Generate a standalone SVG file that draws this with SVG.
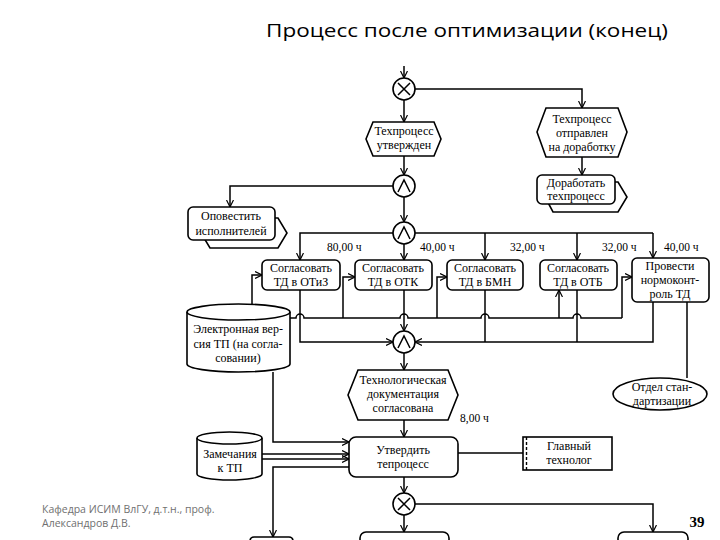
<svg xmlns="http://www.w3.org/2000/svg" width="720" height="540" viewBox="0 0 720 540">
<defs>
<marker id="ar" markerWidth="8" markerHeight="8" refX="7" refY="4" orient="auto" markerUnits="userSpaceOnUse">
<path d="M0,0.5 L7,4 L0,7.5" fill="none" stroke="#000" stroke-width="1.2"/>
</marker>
</defs>
<style>
.t{font-size:12px;fill:#000;text-anchor:middle}
.h{font-size:11.5px;fill:#000}
.n{fill:#fff;stroke:#000;stroke-width:1.6}
.c{fill:none;stroke:#000;stroke-width:1.5}
.a{fill:none;stroke:#000;stroke-width:1.5;marker-end:url(#ar)}
.foot{font-size:10.5px;fill:#707070}
</style>
<rect width="720" height="540" fill="#fff"/>
<text x="467" y="37" font-family="Open Sans, Liberation Sans, sans-serif" font-size="19" fill="#000" text-anchor="middle" textLength="402" lengthAdjust="spacingAndGlyphs">Процесс после оптимизации (конец)</text>

<g id="connectors">
<path class="a" d="M404,66 L404,78"/>
<path class="a" d="M415,89 L582,89 L582,108"/>
<path class="a" d="M582,157 L582,175"/>
<path class="a" d="M404,100 L404,122"/>
<path class="a" d="M404,156 L404,175"/>
<path class="a" d="M393,186 L230,186 L230,207"/>
<path class="a" d="M404,197 L404,222"/>
<path class="a" d="M393,233 L300,233 L300,260"/>
<path class="c" d="M415,233 L653,233"/>
<path class="a" d="M653,233 L653,258"/>
<path class="a" d="M404,244 L404,260"/>
<path class="a" d="M485,233 L485,260"/>
<path class="a" d="M577,233 L577,260"/>
<path class="a" d="M300,290 L300,342 L393,342"/>
<path class="a" d="M404,290 L404,331"/>
<path class="a" d="M653,302 L653,342 L415,342"/>
<path class="c" d="M485,290 L485,342"/>
<path class="c" d="M577,290 L577,342"/>
<path class="c" d="M290,318 L296,318 A4,4 0 0 1 304,318 L400,318 A4,4 0 0 1 408,318 L481,318 A4,4 0 0 1 489,318 L573,318 A4,4 0 0 1 581,318 L622,318"/>
<path class="a" d="M252,306 L252,275 L262,275"/>
<path class="a" d="M343,318 L343,277 L355,277"/>
<path class="a" d="M437,318 L437,277 L447,277"/>
<path class="a" d="M559,318 L559,290"/>
<path class="a" d="M622,318 L622,277 L632,277"/>
<path class="c" d="M687,302 L687,378"/>
<path class="a" d="M404,353 L404,370"/>
<path class="a" d="M404,420 L404,437"/>
<path class="c" d="M458,453 L523,453"/>
<path class="a" d="M273,372 L273,442 L349,442"/>
<path class="a" d="M262,454 L349,454"/>
<path class="a" d="M262,459 L349,459"/>
<path class="a" d="M349,467 L273,467 L273,537"/>
<path class="a" d="M404,477 L404,493"/>
<path class="a" d="M415,504 L653,504 L653,532"/>
<path class="a" d="M404,515 L404,532"/>
</g>

<g font-family="Liberation Serif, Times New Roman, serif">
<g id="xor1"><circle class="n" cx="404" cy="89" r="11"/><path class="c" d="M398,83 L410,95 M410,83 L398,95"/></g>
<g id="ev-dorabotka"><polygon class="n" points="537,132 546,108 618,108 627,132 618,157 546,157"/>
<text class="t" x="582" y="123">Техпроцесс</text><text class="t" x="582" y="137">отправлен</text><text class="t" x="582" y="151">на доработку</text></g>
<g id="fn-dorabotat"><polygon class="n" points="545,197 553,182 618,182 627,197 618,212 553,212"/>
<rect class="n" x="537" y="175" width="78" height="29" rx="5"/>
<text class="t" x="576" y="187">Доработать</text><text class="t" x="576" y="200">техпроцесс</text></g>
<g id="ev-utverzhden"><polygon class="n" points="366,139 373,122 434,122 441,139 434,156 373,156"/>
<text class="t" x="404" y="135">Техпроцесс</text><text class="t" x="404" y="149">утвержден</text></g>
<g id="and1"><circle class="n" cx="404" cy="186" r="11"/><path class="c" d="M398,192 L404,180 L410,192"/></g>
<g id="fn-opovestit"><polygon class="n" points="201,233 210,218 278,218 287,233 278,248 210,248"/>
<rect class="n" x="188" y="207" width="87" height="33" rx="5"/>
<text class="t" x="231" y="220">Оповестить</text><text class="t" x="231" y="235">исполнителей</text></g>
<g id="and2"><circle class="n" cx="404" cy="233" r="11"/><path class="c" d="M398,239 L404,227 L410,239"/></g>
<g id="labels">
<text class="h" x="327" y="251">80,00 ч</text>
<text class="h" x="420" y="251">40,00 ч</text>
<text class="h" x="510" y="251">32,00 ч</text>
<text class="h" x="602" y="251">32,00 ч</text>
<text class="h" x="664" y="251">40,00 ч</text>
<text class="h" x="460" y="422">8,00 ч</text>
</g>
<g id="fn-otiz"><rect class="n" x="262" y="260" width="78" height="30" rx="5"/><text class="t" x="301" y="272">Согласовать</text><text class="t" x="301" y="286">ТД в ОТиЗ</text></g>
<g id="fn-otk"><rect class="n" x="355" y="260" width="77" height="30" rx="5"/><text class="t" x="393" y="272">Согласовать</text><text class="t" x="393" y="286">ТД в ОТК</text></g>
<g id="fn-bmn"><rect class="n" x="447" y="260" width="76" height="30" rx="5"/><text class="t" x="485" y="272">Согласовать</text><text class="t" x="485" y="286">ТД в БМН</text></g>
<g id="fn-otb"><rect class="n" x="540" y="260" width="77" height="30" rx="5"/><text class="t" x="578" y="272">Согласовать</text><text class="t" x="578" y="286">ТД в ОТБ</text></g>
<g id="fn-normokontrol"><rect class="n" x="632" y="258" width="77" height="44" rx="5"/><text class="t" x="670" y="270">Провести</text><text class="t" x="670" y="284">нормоконт-</text><text class="t" x="670" y="298">роль ТД</text></g>
<g id="db-electronnaya"><path class="n" d="M187,312 A51.5,8 0 0 1 290,312 L290,364 A51.5,8 0 0 1 187,364 Z"/><path class="c" d="M187,312 A51.5,8 0 0 0 290,312"/>
<text class="t" x="238" y="333">Электронная вер-</text><text class="t" x="238" y="348">сия ТП (на согла-</text><text class="t" x="238" y="362">совании)</text></g>
<g id="org-otdel"><ellipse class="n" cx="660" cy="394" rx="47" ry="16" stroke-width="2.2"/><text class="t" x="662" y="391">Отдел стан-</text><text class="t" x="662" y="405">дартизации</text></g>
<g id="and3"><circle class="n" cx="404" cy="342" r="11"/><path class="c" d="M398,348 L404,336 L410,348"/></g>
<g id="ev-soglasovana"><polygon class="n" points="348,395 358,370 448,370 458,395 448,420 358,420"/>
<text class="t" x="403" y="384">Технологическая</text><text class="t" x="403" y="398">документация</text><text class="t" x="403" y="412">согласована</text></g>
<g id="fn-utverdit"><rect class="n" x="349" y="437" width="109" height="40" rx="7"/><text class="t" x="403" y="454">Утвердить</text><text class="t" x="403" y="468">тепроцесс</text></g>
<g id="org-glavny"><rect class="n" x="523" y="437" width="89" height="33"/><path d="M526.5,437 L526.5,470" stroke="#000" stroke-width="1.4" stroke-dasharray="3,2"/><text class="t" x="569" y="450">Главный</text><text class="t" x="569" y="464">технолог</text></g>
<g id="db-zamechaniya"><path class="n" d="M197,438 A32.5,6 0 0 1 262,438 L262,474 A32.5,6 0 0 1 197,474 Z"/><path class="c" d="M197,438 A32.5,6 0 0 0 262,438"/>
<text class="t" x="230" y="458">Замечания</text><text class="t" x="230" y="472">к ТП</text></g>
<g id="xor2"><circle class="n" cx="404" cy="504" r="11"/><path class="c" d="M398,498 L410,510 M410,498 L398,510"/></g>
<g id="bottom-boxes">
<rect class="n" x="250" y="537" width="43" height="12" rx="4"/>
<rect class="n" x="360" y="532" width="89" height="20" rx="6"/>
<rect class="n" x="618" y="532" width="70" height="20" rx="6"/>
</g>
<text x="697" y="527" font-size="15" font-weight="bold" text-anchor="middle">39</text>
</g>
<g font-family="Open Sans, Liberation Sans, sans-serif">
<text class="foot" x="42" y="513">Кафедра ИСИМ ВлГУ, д.т.н., проф.</text>
<text class="foot" x="42" y="527">Александров Д.В.</text>
</g>
</svg>
